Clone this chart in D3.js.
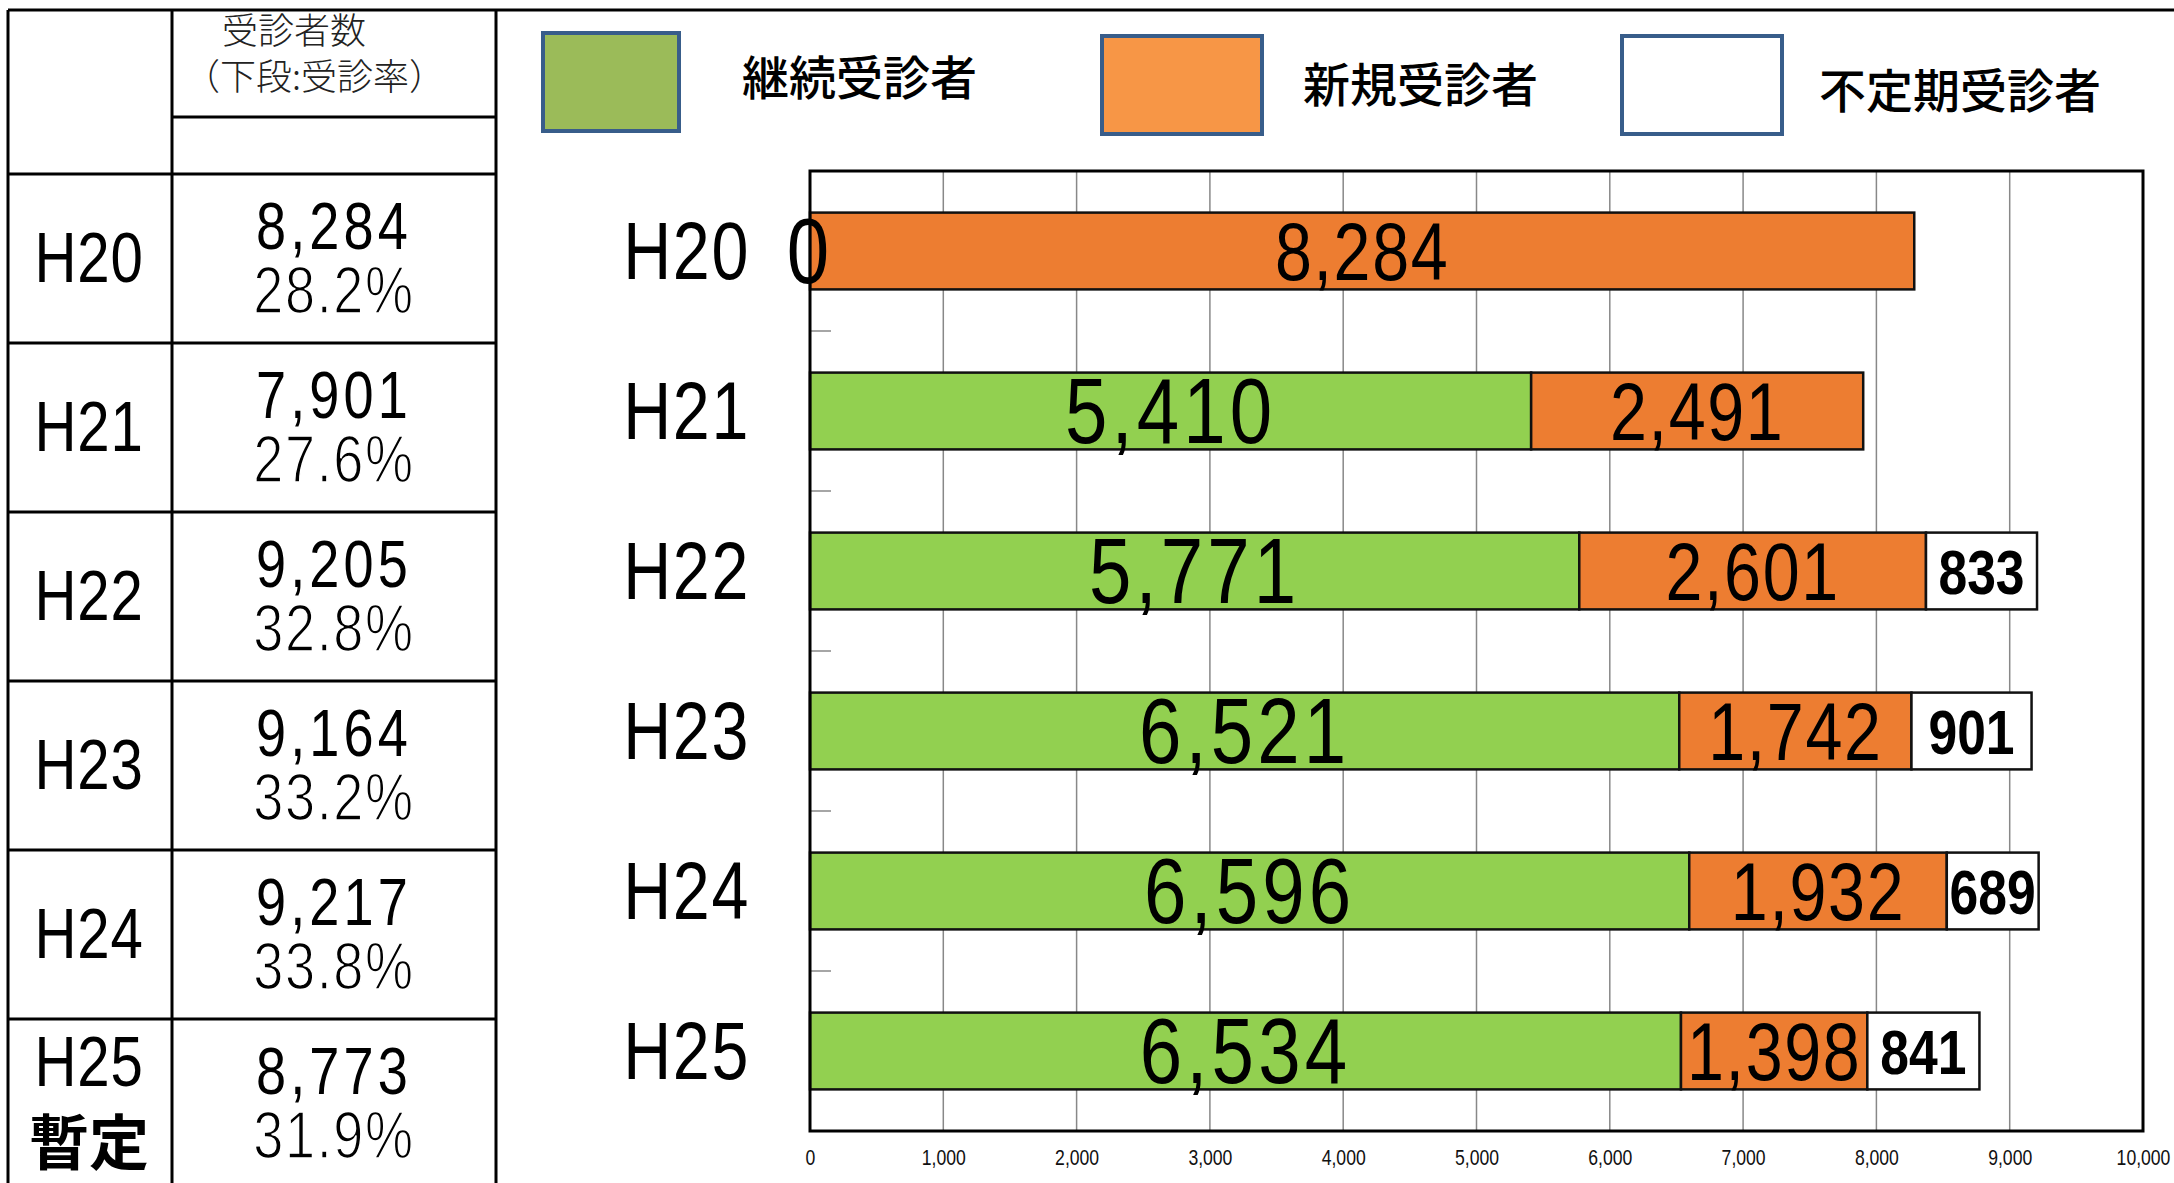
<!DOCTYPE html>
<html>
<head>
<meta charset="utf-8">
<script src="https://cdn.jsdelivr.net/npm/d3@7"></script>
<style>
  body { margin: 0; background: #fff; }
  svg { display: block; }
</style>
</head>
<body>
<svg id="chart" width="2174" height="1183"></svg>
<script>
// data
const years = ["H20", "H21", "H22", "H23", "H24", "H25"];
const continuing = [0, 5410, 5771, 6521, 6596, 6534];
const newcomers = [8284, 2491, 2601, 1742, 1932, 1398];
const irregular = [null, null, 833, 901, 689, 841];
const totals = [8284, 7901, 9205, 9164, 9217, 8773];
const rates = [28.2, 27.6, 32.8, 33.2, 33.8, 31.9];
const seriesNames = ["継続受診者", "新規受診者", "不定期受診者"];
const xTicks = [0, 1000, 2000, 3000, 4000, 5000, 6000, 7000, 8000, 9000, 10000];

// no narrow font installed, so squeeze Liberation Sans horizontally
const sans = "'Liberation Sans', Arial, sans-serif";
const cjk = "'Noto Sans CJK JP', sans-serif";
const squeeze = 0.82;
const at = (x, y) => "translate(" + x + "," + y + ") scale(" + squeeze + ",1)";

const svg = d3.select("#chart");
svg.append("rect").attr("width", 2174).attr("height", 1183).attr("fill", "#fff");

const rows = years.map((y, i) => ({
  year: y,
  cont: continuing[i],
  nw: newcomers[i],
  irr: irregular[i] == null ? 0 : irregular[i],
  irrShown: irregular[i] != null,
  total: totals[i],
  rate: rates[i],
}));

// ---------- table on the left ----------
const rowY = d3.scaleBand().domain(years).range([174, 174 + 6 * 169]);
const tbl = svg.append("g").attr("stroke", "#000").attr("stroke-width", 3);
tbl.append("line").attr("x1", 8).attr("x2", 2174).attr("y1", 10).attr("y2", 10);
[8, 172, 496].forEach((x) =>
  tbl.append("line").attr("x1", x).attr("x2", x).attr("y1", 10).attr("y2", 1190)
);
tbl.append("line").attr("x1", 172).attr("x2", 496).attr("y1", 117).attr("y2", 117);
years.forEach((y) =>
  tbl.append("line").attr("x1", 8).attr("x2", 496).attr("y1", rowY(y)).attr("y2", rowY(y))
);

svg.append("text").attr("x", 222).attr("y", 44)
  .attr("font-family", cjk).attr("font-weight", 300).attr("font-size", 36).attr("fill", "#222")
  .text("受診者数");
svg.append("text").attr("x", 184).attr("y", 90)
  .attr("font-family", cjk).attr("font-weight", 300).attr("font-size", 36).attr("fill", "#222")
  .text("（下段:受診率）");

const trow = svg.append("g").selectAll("g").data(rows).enter().append("g")
  .attr("transform", (d) => "translate(0," + rowY(d.year) + ")");

trow.append("text")
  .attr("transform", (d) => at(89, d.year === "H25" ? 67 : 108))
  .attr("text-anchor", "middle")
  .attr("font-family", sans).attr("font-size", 71).attr("letter-spacing", 1)
  .text((d) => d.year);

trow.filter((d) => d.year === "H25").append("text")
  .attr("x", 89).attr("y", 146)
  .attr("text-anchor", "middle")
  .attr("font-family", cjk).attr("font-weight", "bold").attr("font-size", 60)
  .text("暫定");

trow.append("text")
  .attr("transform", at(334, 75))
  .attr("text-anchor", "middle")
  .attr("font-family", sans).attr("font-size", 66).attr("letter-spacing", 5)
  .text((d) => d3.format(",")(d.total));

// lighter weight for the rate: thin the glyphs with a white outline
trow.append("text")
  .attr("transform", at(334, 139))
  .attr("text-anchor", "middle")
  .attr("font-family", sans).attr("font-size", 66).attr("letter-spacing", 2)
  .attr("fill", "#000").attr("stroke", "#fff").attr("stroke-width", 1.6)
  .text((d) => d.rate.toFixed(1) + "%");

// ---------- legend ----------
const legendColors = ["#9BBB59", "#F79646", "#FFFFFF"];
const legendBox = [[543, 33, 136, 98], [1102, 36, 160, 98], [1622, 36, 160, 98]];
const legendText = [[742, 95], [1303, 102], [1819, 108]];
const legend = svg.append("g").selectAll("g").data(seriesNames).enter().append("g");
legend.append("rect")
  .attr("x", (d, i) => legendBox[i][0]).attr("y", (d, i) => legendBox[i][1])
  .attr("width", (d, i) => legendBox[i][2]).attr("height", (d, i) => legendBox[i][3])
  .attr("fill", (d, i) => legendColors[i])
  .attr("stroke", "#385D8A").attr("stroke-width", 4);
legend.append("text")
  .attr("x", (d, i) => legendText[i][0]).attr("y", (d, i) => legendText[i][1])
  .attr("font-family", cjk).attr("font-weight", 500).attr("font-size", 47)
  .text((d) => d);

// ---------- bar chart ----------
const x = d3.scaleLinear().domain([0, 10000]).range([810, 2143]);
const y = d3.scaleBand().domain(years).range([171, 1131]).paddingInner(0.52).paddingOuter(0.26);

const grid = svg.append("g");
grid.selectAll("line").data(xTicks.slice(1, -1)).enter().append("line")
  .attr("x1", (d) => x(d)).attr("x2", (d) => x(d))
  .attr("y1", 171).attr("y2", 1131)
  .attr("stroke", "#888").attr("stroke-width", 1.5);

// small category ticks on the left axis
const gap = (y.step() - y.bandwidth()) / 2;
grid.selectAll(".cat-tick").data(years.slice(1)).enter().append("line")
  .attr("class", "cat-tick")
  .attr("x1", 810).attr("x2", 831)
  .attr("y1", (d) => y(d) - gap)
  .attr("y2", (d) => y(d) - gap)
  .attr("stroke", "#888").attr("stroke-width", 1.5);

const stack = d3.stack().keys(["cont", "nw", "irr"]);
const series = stack(rows);
const barColors = { cont: "#92D050", nw: "#ED7D31", irr: "#FFFFFF" };

svg.append("g").selectAll("g").data(series).enter().append("g")
  .attr("fill", (s) => barColors[s.key])
  .selectAll("rect")
  .data((s) => s.filter((d) => d[1] - d[0] > 0))
  .enter().append("rect")
  .attr("x", (d) => x(d[0]))
  .attr("y", (d) => y(d.data.year))
  .attr("width", (d) => x(d[1]) - x(d[0]))
  .attr("height", y.bandwidth())
  .attr("stroke", "#111").attr("stroke-width", 2.5);

svg.append("rect")
  .attr("x", 810).attr("y", 171).attr("width", 2143 - 810).attr("height", 960)
  .attr("fill", "none").attr("stroke", "#000").attr("stroke-width", 3);

// value labels, drawn above every bar
const labelStyle = {
  cont: { size: 93, dy: 32, weight: "normal", ls: 5 },
  nw: { size: 81, dy: 28.5, weight: "normal", ls: 2 },
  irr: { size: 63, dy: 23, weight: "bold", ls: 0 },
};
svg.append("g").selectAll("g").data(series).enter().append("g")
  .each(function (s) {
    const st = labelStyle[s.key];
    d3.select(this).selectAll("text")
      .data(s.filter((d) => (s.key === "irr" ? d.data.irrShown : true)))
      .enter().append("text")
      .attr("transform", (d) =>
        at((x(d[0]) + x(d[1])) / 2, y(d.data.year) + y.bandwidth() / 2 + st.dy))
      .attr("text-anchor", "middle")
      .attr("fill", "#000")
      .attr("font-family", sans)
      .attr("font-size", st.size)
      .attr("font-weight", st.weight)
      .attr("letter-spacing", st.ls)
      .text((d) => d3.format(",")(d.data[s.key]));
  });

// category labels
svg.append("g").selectAll("text").data(years).enter().append("text")
  .attr("transform", (d) => at(750, y(d) + y.bandwidth() / 2 + 28))
  .attr("text-anchor", "end")
  .attr("font-family", sans).attr("font-size", 81).attr("letter-spacing", 2)
  .text((d) => d);

// x axis
const xAxis = svg.append("g")
  .attr("transform", "translate(0,1131)")
  .call(d3.axisBottom(x).tickValues(xTicks).tickSize(0).tickPadding(18).tickFormat(d3.format(",")));
xAxis.select(".domain").remove();
xAxis.selectAll("text")
  .attr("transform", "scale(0.8,1)")
  .attr("font-family", sans).attr("font-size", 22).attr("fill", "#111");
</script>
</body>
</html>
